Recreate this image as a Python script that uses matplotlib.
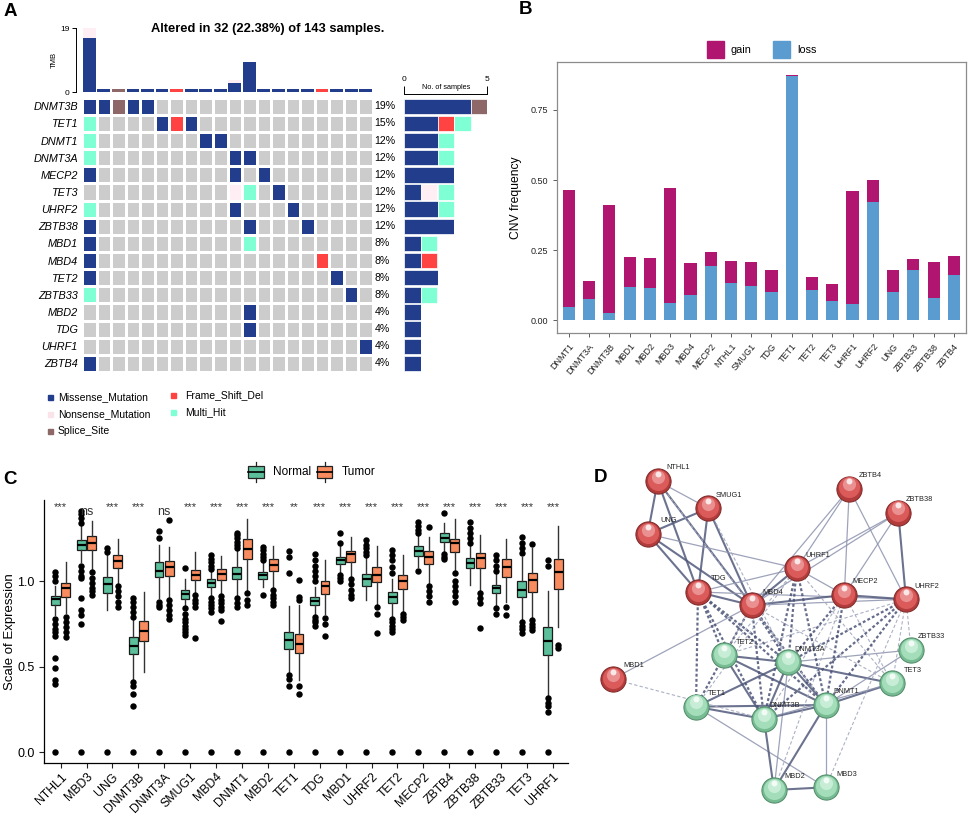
import matplotlib
matplotlib.use('Agg')
import matplotlib.pyplot as plt
import numpy as np
from matplotlib.patches import Rectangle, Patch
from matplotlib.colors import ListedColormap

plt.rcParams['font.family'] = ['Liberation Sans', 'DejaVu Sans']

# ---------------- Panel A data ----------------
onco_genes = ['DNMT3B', 'TET1', 'DNMT1', 'DNMT3A', 'MECP2', 'TET3', 'UHRF2', 'ZBTB38',
              'MBD1', 'MBD4', 'TET2', 'ZBTB33', 'MBD2', 'TDG', 'UHRF1', 'ZBTB4']
# . none, M Missense, N Nonsense, S Splice_Site, F Frame_Shift_Del, H Multi_Hit
onco_rows = [
    'MMSMM...............',
    'H....MFM............',
    'H.......MM..........',
    'H.........MM........',
    'M.........M.M.......',
    '..........NH.M......',
    'H.........M...M.....',
    'M..........M...M....',
    'M..........H........',
    'M...............F...',
    'M................M..',
    'H.................M.',
    '...........M........',
    '...........M........',
    '...................M',
    'M...................',
]
onco_pct = ['19%', '15%', '12%', '12%', '12%', '12%', '12%', '12%',
            '8%', '8%', '8%', '8%', '4%', '4%', '4%', '4%']
tmb_missense = [16, 1, 0, 1, 1, 1, 0, 1, 1, 1, 2.9, 9, 1, 1, 1, 1, 0, 1, 1, 1]
tmb_nonsense = [3, 0, 0, 0, 0, 0, 0, 0, 0, 0, 0.8, 0, 0, 0, 0, 0, 0, 0, 0, 0]
tmb_splice = [0, 0, 1, 0, 0, 0, 0, 0, 0, 0, 0, 0, 0, 0, 0, 0, 0, 0, 0, 0]
tmb_fsd = [0, 0, 0, 0, 0, 0, 1, 0, 0, 0, 0, 0, 0, 0, 0, 0, 1, 0, 0, 0]
mut_codes = ['.', 'M', 'N', 'S', 'F', 'H']
mut_names = ['', 'Missense_Mutation', 'Nonsense_Mutation', 'Splice_Site', 'Frame_Shift_Del', 'Multi_Hit']
mut_colors = ['#CCCCCC', '#223D8C', '#FFEEF3', '#8E6868', '#FF4242', '#7FFFD4']

# ---------------- Panel B data ----------------
cnv_genes = ['DNMT1', 'DNMT3A', 'DNMT3B', 'MBD1', 'MBD2', 'MBD3', 'MBD4', 'MECP2', 'NTHL1', 'SMUG1',
             'TDG', 'TET1', 'TET2', 'TET3', 'UHRF1', 'UHRF2', 'UNG', 'ZBTB33', 'ZBTB38', 'ZBTB4']
cnv_loss = [0.049, 0.075, 0.028, 0.120, 0.117, 0.062, 0.091, 0.193, 0.132, 0.122,
            0.102, 0.872, 0.107, 0.068, 0.057, 0.423, 0.102, 0.179, 0.079, 0.161]
cnv_gain = [0.415, 0.065, 0.385, 0.105, 0.106, 0.411, 0.114, 0.049, 0.079, 0.087,
            0.077, 0.004, 0.047, 0.061, 0.405, 0.077, 0.076, 0.040, 0.128, 0.068]

# ---------------- Panel C data ----------------
expr_genes = ['NTHL1', 'MBD3', 'UNG', 'DNMT3B', 'DNMT3A', 'SMUG1', 'MBD4', 'DNMT1', 'MBD2', 'TET1',
              'TDG', 'MBD1', 'UHRF2', 'TET2', 'MECP2', 'ZBTB4', 'ZBTB38', 'ZBTB33', 'TET3', 'UHRF1']
expr_sig = ['***', 'ns', '***', '***', 'ns', '***', '***', '***', '***', '**',
            '***', '***', '***', '***', '***', '***', '***', '***', '***', '***']
# (q1, median, q3, whisker_low, whisker_high)
normal_stats = [
    (0.860, 0.895, 0.914, 0.800, 0.970), (1.180, 1.210, 1.239, 1.112, 1.327),
    (0.933, 0.982, 1.025, 0.830, 1.151), (0.574, 0.622, 0.675, 0.420, 0.772),
    (1.021, 1.060, 1.112, 0.900, 1.210), (0.895, 0.922, 0.947, 0.860, 1.010),
    (0.963, 0.986, 1.009, 0.912, 1.064), (1.009, 1.040, 1.083, 0.908, 1.180),
    (1.009, 1.035, 1.055, 0.967, 1.112), (0.601, 0.655, 0.704, 0.461, 0.854),
    (0.860, 0.883, 0.904, 0.800, 0.967), (1.100, 1.122, 1.142, 1.045, 1.210),
    (0.973, 1.010, 1.041, 0.889, 1.142), (0.869, 0.904, 0.937, 0.792, 1.009),
    (1.148, 1.175, 1.204, 1.083, 1.268), (1.229, 1.252, 1.278, 1.171, 1.340),
    (1.074, 1.103, 1.132, 0.976, 1.210), (0.928, 0.957, 0.975, 0.850, 1.040),
    (0.908, 0.947, 1.000, 0.772, 1.142), (0.568, 0.651, 0.729, 0.325, 0.943),
]
tumor_stats = [
    (0.904, 0.961, 0.990, 0.811, 1.112), (1.180, 1.220, 1.262, 1.064, 1.352),
    (1.074, 1.118, 1.151, 0.976, 1.243), (0.650, 0.708, 0.766, 0.470, 0.937),
    (1.029, 1.080, 1.118, 0.900, 1.200), (1.006, 1.035, 1.064, 0.937, 1.171),
    (1.006, 1.039, 1.068, 0.924, 1.146), (1.126, 1.185, 1.243, 0.937, 1.365),
    (1.058, 1.093, 1.128, 0.957, 1.204), (0.578, 0.632, 0.690, 0.420, 0.860),
    (0.924, 0.973, 1.000, 0.807, 1.122), (1.109, 1.155, 1.177, 1.021, 1.258),
    (0.996, 1.035, 1.083, 0.860, 1.204), (0.951, 1.000, 1.035, 0.811, 1.151),
    (1.097, 1.142, 1.177, 0.986, 1.258), (1.167, 1.220, 1.245, 1.049, 1.365),
    (1.074, 1.132, 1.165, 0.937, 1.268), (1.025, 1.083, 1.126, 0.879, 1.243),
    (0.937, 1.005, 1.044, 0.782, 1.190), (0.953, 1.054, 1.126, 0.733, 1.320),
]
normal_fliers = [
    [1.0, 1.03, 1.05, 0.78, 0.75, 0.72, 0.70, 0.68, 0.55, 0.49, 0.42, 0.40, 0.0],
    [1.34, 1.37, 1.39, 1.41, 1.09, 1.06, 1.03, 1.015, 0.90, 0.83, 0.80, 0.75, 0.0],
    [1.17, 1.19, 0.0],
    [0.79, 0.82, 0.85, 0.88, 0.90, 0.41, 0.39, 0.34, 0.27, 0.0],
    [1.25, 1.29, 0.88, 0.86, 0.85, 0.0],
    [1.077, 0.84, 0.81, 0.78, 0.76, 0.74, 0.72, 0.70, 0.685, 0.0],
    [1.07, 1.09, 1.11, 1.13, 1.15, 0.90, 0.88, 0.86, 0.84, 0.82, 0.0],
    [1.19, 1.21, 1.23, 1.25, 1.27, 1.28, 0.90, 0.87, 0.85, 0.0],
    [1.122, 1.14, 1.16, 1.18, 1.196, 0.918, 0.0],
    [1.177, 1.138, 1.049, 0.45, 0.43, 0.39, 0.0],
    [1.0, 1.03, 1.06, 1.09, 1.12, 1.16, 0.79, 0.77, 0.76, 0.74, 0.0],
    [1.22, 1.278, 1.035, 1.02, 1.0, 0.0],
    [1.15, 1.17, 1.19, 1.21, 1.24, 0.0],
    [1.045, 1.08, 1.12, 1.15, 1.18, 0.78, 0.76, 0.74, 0.72, 0.70, 0.0],
    [1.278, 1.30, 1.32, 1.346, 1.06, 0.0],
    [1.398, 1.157, 1.14, 1.126, 0.0],
    [1.22, 1.25, 1.28, 1.31, 1.346, 0.0],
    [1.06, 1.09, 1.12, 1.15, 0.84, 0.81, 0.0],
    [1.161, 1.19, 1.22, 1.258, 0.762, 0.74, 0.72, 0.694, 0.0],
    [1.122, 1.087, 0.315, 0.29, 0.27, 0.238, 0.0],
]
tumor_fliers = [
    [0.79, 0.76, 0.73, 0.70, 0.675],
    [1.05, 1.02, 0.99, 0.96, 0.94, 0.92],
    [0.97, 0.94, 0.91, 0.88, 0.85],
    [],
    [1.356, 0.89, 0.86, 0.83, 0.80, 0.78],
    [0.92, 0.89, 0.87, 0.85, 0.666],
    [0.91, 0.89, 0.87, 0.85, 0.83, 0.766],
    [0.93, 0.89, 0.86],
    [0.948, 0.92, 0.90, 0.88, 0.86],
    [1.006, 0.905, 0.89, 0.387, 0.34],
    [0.787, 0.748, 0.68],
    [1.01, 0.98, 0.95, 0.92, 0.90],
    [0.846, 0.807, 0.694],
    [0.807, 0.79, 0.772],
    [1.313, 0.97, 0.94, 0.91, 0.88],
    [1.045, 1.0, 0.97, 0.94, 0.91, 0.88],
    [0.93, 0.90, 0.87, 0.723],
    [0.85, 0.80],
    [1.215, 0.77, 0.75, 0.73, 0.714],
    [0.626, 0.61],
]

# ---------------- Panel D data ----------------
net_nodes = ['NTHL1', 'SMUG1', 'UNG', 'TDG', 'MBD4', 'UHRF1', 'MECP2', 'UHRF2', 'ZBTB4', 'ZBTB38',
             'MBD1', 'TET2', 'DNMT3A', 'ZBTB33', 'TET3', 'TET1', 'DNMT3B', 'DNMT1', 'MBD2', 'MBD3']
net_x = [657.7, 708.3, 647.7, 698.0, 751.7, 796.7, 844.3, 906.0, 849.3, 898.3,
         612.7, 724.0, 788.3, 911.0, 892.3, 696.0, 764.0, 825.7, 774.0, 825.7]
net_y = [481.0, 508.3, 534.0, 592.0, 605.3, 568.3, 595.0, 599.3, 488.7, 512.7,
         679.0, 655.3, 662.3, 650.0, 683.3, 706.7, 719.0, 705.0, 790.0, 787.3]
net_cluster = [0] * 10 + [0] + [1] * 9
# (a, b, kind) kind: S strong solid, s weak solid, D strong dotted, d weak dashed
net_edges = [
    ('NTHL1', 'SMUG1', 's'), ('NTHL1', 'UNG', 'S'), ('NTHL1', 'TDG', 'S'), ('NTHL1', 'MBD4', 'S'),
    ('SMUG1', 'UNG', 'S'), ('SMUG1', 'TDG', 'S'), ('SMUG1', 'MBD4', 'S'), ('UNG', 'TDG', 'S'),
    ('UNG', 'MBD4', 'S'), ('UNG', 'UHRF1', 's'), ('TDG', 'MBD4', 'S'), ('TDG', 'UHRF1', 's'),
    ('TDG', 'UHRF2', 's'), ('MBD4', 'UHRF1', 'S'), ('MBD4', 'MECP2', 'S'), ('MBD4', 'UHRF2', 's'),
    ('MBD4', 'MBD1', 's'), ('UHRF1', 'ZBTB4', 's'), ('UHRF1', 'ZBTB38', 's'), ('UHRF1', 'MECP2', 's'),
    ('ZBTB4', 'MECP2', 's'), ('ZBTB4', 'UHRF2', 's'), ('ZBTB4', 'MBD4', 's'), ('ZBTB38', 'MECP2', 's'),
    ('ZBTB38', 'UHRF2', 'S'), ('ZBTB38', 'MBD4', 's'), ('MECP2', 'UHRF2', 'S'),
    ('TET2', 'DNMT3A', 'S'), ('TET2', 'DNMT3B', 'S'), ('TET2', 'DNMT1', 'S'), ('TET1', 'DNMT3A', 'S'),
    ('TET1', 'DNMT3B', 'S'), ('TET1', 'DNMT1', 'S'), ('TET1', 'MBD3', 's'), ('DNMT3A', 'DNMT3B', 'S'),
    ('DNMT3A', 'DNMT1', 'S'), ('DNMT3A', 'TET3', 'S'), ('DNMT3A', 'ZBTB33', 's'), ('DNMT3A', 'MBD2', 's'),
    ('DNMT1', 'TET3', 'S'), ('DNMT1', 'ZBTB33', 's'), ('DNMT1', 'MBD2', 'S'), ('DNMT1', 'MBD3', 's'),
    ('DNMT3B', 'DNMT1', 'S'), ('DNMT3B', 'MBD2', 'S'), ('MBD2', 'MBD3', 'S'), ('DNMT3B', 'TET3', 's'),
    ('TDG', 'TET1', 'D'), ('TDG', 'TET2', 'D'), ('TDG', 'DNMT3B', 'D'), ('TDG', 'DNMT1', 'D'),
    ('TDG', 'DNMT3A', 'D'), ('MBD4', 'TET1', 'D'), ('MBD4', 'TET2', 'd'), ('MBD4', 'DNMT3B', 'D'),
    ('MBD4', 'DNMT3A', 'D'), ('MBD4', 'DNMT1', 'D'), ('MBD4', 'TET3', 'd'), ('UHRF1', 'DNMT3B', 'D'),
    ('UHRF1', 'DNMT1', 'D'), ('UHRF1', 'DNMT3A', 'D'), ('UHRF1', 'TET2', 'd'), ('UHRF1', 'TET1', 'd'),
    ('UHRF1', 'TET3', 'd'), ('MECP2', 'DNMT3A', 'D'), ('MECP2', 'DNMT1', 'D'), ('MECP2', 'DNMT3B', 'd'),
    ('MECP2', 'TET3', 'd'), ('MECP2', 'MBD2', 'd'), ('UHRF2', 'DNMT1', 'D'), ('UHRF2', 'DNMT3A', 'D'),
    ('UHRF2', 'DNMT3B', 'D'), ('UHRF2', 'TET3', 'd'), ('UHRF2', 'TET2', 'd'), ('UHRF2', 'ZBTB33', 'd'),
    ('UHRF2', 'MBD3', 'd'), ('MBD1', 'DNMT3B', 'd'), ('SMUG1', 'DNMT3A', 'd'), ('NTHL1', 'DNMT1', 'd'),
]

# ================= figure =================
W, H = 969, 818
fig = plt.figure(figsize=(W / 100, H / 100), dpi=100)


def px_axes(l, t, r, b):
    return fig.add_axes([l / W, 1 - b / H, (r - l) / W, (b - t) / H])


# ---------- Panel A: TMB ----------
nsamp = len(tmb_missense)
axt = px_axes(82, 28.3, 373, 92.3)
xs = np.arange(nsamp) + 0.5
bottom = np.zeros(nsamp)
for vals, col in [(tmb_missense, mut_colors[1]), (tmb_nonsense, mut_colors[2]),
                  (tmb_splice, mut_colors[3]), (tmb_fsd, mut_colors[4])]:
    axt.bar(xs, vals, bottom=bottom, width=0.88, color=col, linewidth=0)
    bottom += np.array(vals)
axt.set_xlim(0, nsamp)
axt.set_ylim(0, 19)
for s in ['top', 'right', 'bottom']:
    axt.spines[s].set_visible(False)
axt.spines['left'].set_position(('outward', 4))
axt.spines['left'].set_linewidth(0.7)
axt.set_xticks([])
axt.set_yticks([0, 19])
axt.tick_params(axis='y', labelsize=6, length=3, width=0.7, pad=2)
axt.set_ylabel('TMB', fontsize=5.5, labelpad=2)

# ---------- Panel A: oncoplot grid ----------
ngene = len(onco_genes)
mat = np.array([[mut_codes.index(c) for c in row] for row in onco_rows])
axg = px_axes(82, 97.7, 373, 372)
axg.pcolormesh(np.arange(nsamp + 1), np.arange(ngene + 1), mat,
               cmap=ListedColormap(mut_colors), vmin=-0.5, vmax=5.5,
               edgecolors='white', linewidth=0.8)
axg.set_xlim(0, nsamp)
axg.set_ylim(ngene, 0)
for s in axg.spines.values():
    s.set_visible(False)
axg.set_xticks([])
axg.set_yticks(np.arange(ngene) + 0.5)
axg.set_yticklabels(onco_genes, fontsize=7.8, style='italic')
axg.tick_params(axis='y', length=0, pad=3)
for i, p in enumerate(onco_pct):
    axg.text(nsamp + 0.1, i + 0.5, p, fontsize=7.6, va='center', ha='left')

# ---------- Panel A: side bars ----------
axs = px_axes(404.3, 97.7, 487.3, 372)
left = np.zeros(ngene)
for code in [1, 2, 3, 4, 5]:
    cnt = (mat == code).sum(axis=1)
    axs.barh(np.arange(ngene) + 0.5, cnt, left=left, height=0.9, color=mut_colors[code],
             edgecolor='white', linewidth=0.5)
    left += cnt
axs.set_xlim(0, 5)
axs.set_ylim(ngene, 0)
for s in ['bottom', 'left', 'right']:
    axs.spines[s].set_visible(False)
axs.spines['top'].set_position(('outward', 2.5))
axs.spines['top'].set_linewidth(0.7)
axs.set_yticks([])
axs.xaxis.tick_top()
axs.set_xticks([0, 5])
axs.tick_params(axis='x', labelsize=6, length=6, width=0.7, pad=2)
axs.text(0.5, 1.024, 'No. of samples', transform=axs.transAxes, fontsize=5.2,
         ha='center', va='bottom')

# ---------- Panel B ----------
axb = px_axes(556.7, 62.3, 966, 332.7)
xb = np.arange(len(cnv_genes))
axb.bar(xb, cnv_loss, width=0.6, color='#5A9BD0', linewidth=0)
axb.bar(xb, cnv_gain, bottom=cnv_loss, width=0.6, color='#B0166F', linewidth=0)
axb.set_xlim(-0.6, len(cnv_genes) - 0.4)
axb.set_ylim(-0.044, 0.92)
axb.set_yticks([0, 0.25, 0.5, 0.75])
axb.set_yticklabels(['0.00', '0.25', '0.50', '0.75'])
axb.set_xticks(xb)
axb.set_xticklabels(cnv_genes, rotation=50, ha='right', rotation_mode='anchor')
axb.tick_params(labelsize=6.5, length=3, color='#444444', width=0.6, labelcolor='#222222')
for s in axb.spines.values():
    s.set_color('#8C8C8C')
    s.set_linewidth(0.9)
axb.set_ylabel('CNV frequency', fontsize=8.7, labelpad=6)
axb.legend(handles=[Patch(color='#B0166F', label='gain'), Patch(color='#5A9BD0', label='loss')],
           loc='center', bbox_to_anchor=(0.5, 1.048), ncol=2, frameon=False,
           fontsize=7.8, handlelength=1.6, handleheight=2.0, columnspacing=2.0, handletextpad=0.6)

# ---------- Panel C ----------
axc = px_axes(44.3, 500, 568, 763.3)
col_n, col_t = '#5BBF9C', '#F98C5E'
pos = np.arange(len(expr_genes))


def mk_stats(stats, fliers):
    out = []
    for (q1, med, q3, lo, hi), fl in zip(stats, fliers):
        out.append(dict(q1=q1, med=med, q3=q3, whislo=lo, whishi=hi, fliers=np.array(fl)))
    return out


for stats, fl, off, col in [(normal_stats, normal_fliers, -0.2, col_n),
                            (tumor_stats, tumor_fliers, 0.2, col_t)]:
    axc.bxp(mk_stats(stats, fl), positions=pos + off, widths=0.34, patch_artist=True,
            showcaps=False, manage_ticks=False,
            boxprops=dict(facecolor=col, edgecolor='#1a1a1a', linewidth=0.9),
            medianprops=dict(color='black', linewidth=1.6),
            whiskerprops=dict(color='#333333', linewidth=1.0),
            flierprops=dict(marker='o', markerfacecolor='black', markeredgecolor='black',
                            markersize=3.6, linestyle='none'))
for i, s in enumerate(expr_sig):
    if s == 'ns':
        axc.text(i, 1.405, s, fontsize=9, ha='center', va='center', color='#333333')
    else:
        axc.text(i, 1.43, s, fontsize=8, ha='center', va='center', color='#333333')
axc.set_xlim(-0.63, len(expr_genes) - 0.42)
axc.set_ylim(-0.064, 1.473)
axc.set_yticks([0, 0.5, 1.0])
axc.set_yticklabels(['0.0', '0.5', '1.0'])
axc.set_xticks(pos)
axc.set_xticklabels(expr_genes, rotation=45, ha='right', rotation_mode='anchor')
axc.tick_params(labelsize=9, length=3.5, width=0.8, color='#222222')
axc.tick_params(axis='x', labelsize=8.8, pad=2)
for s in ['top', 'right']:
    axc.spines[s].set_visible(False)
for s in ['left', 'bottom']:
    axc.spines[s].set_linewidth(0.9)
axc.set_ylabel('Scale of Expression', fontsize=9.5)
axc.yaxis.set_label_coords(-0.054, 0.5)

# ---------- Panel D ----------
axd = px_axes(590, 455, 969, 818)
axd.set_xlim(590, 969)
axd.set_ylim(818, 455)
axd.axis('off')
idx = {n: i for i, n in enumerate(net_nodes)}
edge_style = {
    'S': dict(color='#525A7C', lw=1.5, alpha=0.85, ls='-'),
    's': dict(color='#8D93AE', lw=0.9, alpha=0.85, ls='-'),
    'D': dict(color='#4B5377', lw=1.6, alpha=0.85, ls=(0, (1.3, 1.0))),
    'd': dict(color='#A3A8BE', lw=0.8, alpha=0.9, ls=(0, (3, 2))),
}
for a, b, k in net_edges:
    st = edge_style[k]
    axd.plot([net_x[idx[a]], net_x[idx[b]]], [net_y[idx[a]], net_y[idx[b]]],
             color=st['color'], lw=st['lw'], alpha=st['alpha'], linestyle=st['ls'], zorder=1)
nx_ = np.array(net_x)
ny_ = np.array(net_y)
cl = np.array(net_cluster)
for c, (dark, mid, light, edge) in enumerate([('#B23B3B', '#DB5B5B', '#EE9A9A', '#7E2A2A'),
                                               ('#77BB92', '#A3DDBA', '#CFF0DC', '#4F8A68')]):
    m = cl == c
    axd.scatter(nx_[m], ny_[m], s=330, color=dark, edgecolor=edge, linewidth=0.7, zorder=3)
    axd.scatter(nx_[m], ny_[m] - 1.5, s=230, color=mid, linewidth=0, zorder=4)
    axd.scatter(nx_[m], ny_[m] - 4.5, s=90, color=light, linewidth=0, alpha=0.85, zorder=5)
    axd.scatter(nx_[m], ny_[m] - 7.5, s=18, color='white', linewidth=0, alpha=0.8, zorder=6)
for n, x, y in zip(net_nodes, net_x, net_y):
    axd.annotate(n, (x, y), xytext=(15, 9.5), textcoords='offset points', fontsize=5.3,
                 ha='center', va='center', color='#222222', zorder=7)

# ---------- overlay: panel letters, titles, legends ----------
ov = fig.add_axes([0, 0, 1, 1])
ov.set_xlim(0, W)
ov.set_ylim(H, 0)
ov.axis('off')
ov.patch.set_visible(False)
for lab, x, y in [('A', 10, 12), ('B', 526, 10), ('C', 10, 480), ('D', 601, 477)]:
    ov.text(x, y, lab, fontsize=13.5, fontweight='bold', ha='center', va='center')
ov.text(268, 29, 'Altered in 32 (22.38%) of 143 samples.', fontsize=9.3, fontweight='bold',
        ha='center', va='center')
# oncoplot legend
leg_items = [(1, 51, 58, 397), (2, 51, 58, 414), (3, 51, 58, 431), (4, 174, 185, 395), (5, 174, 185, 412.5)]
for code, sx, tx, y in leg_items:
    ov.add_patch(Rectangle((sx - 2.5, y - 2.5), 5, 5, color=mut_colors[code] if code != 2 else '#FBE3EA'))
    ov.text(tx, y, mut_names[code], fontsize=7.5, va='center', ha='left')
# panel C legend
for gx, tx, col, lab in [(248.5, 273, col_n, 'Normal'), (317, 342, col_t, 'Tumor')]:
    ov.add_patch(Rectangle((gx, 466), 15.5, 12, facecolor=col, edgecolor='#222222', lw=0.9))
    ov.plot([gx, gx + 15.5], [472, 472], color='black', lw=1.2)
    ov.plot([gx + 7.75, gx + 7.75], [462, 466], color='#222222', lw=0.9)
    ov.plot([gx + 7.75, gx + 7.75], [478, 482], color='#222222', lw=0.9)
    ov.text(tx, 472, lab, fontsize=8.5, va='center', ha='left')

fig.savefig('out.png', dpi=100)
